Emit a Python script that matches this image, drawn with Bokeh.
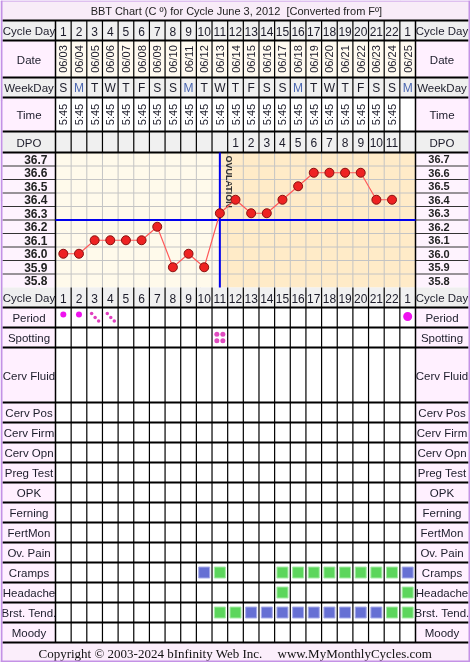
import math
from bokeh.plotting import figure
from bokeh.models import Range1d, ColumnDataSource
from bokeh.core.properties import value
from bokeh.embed import file_html
from bokeh.resources import INLINE

# ---------------- data ----------------
cycle_day_labels = ["1", "2", "3", "4", "5", "6", "7", "8", "9", "10", "11", "12",
                    "13", "14", "15", "16", "17", "18", "19", "20", "21", "22", "1"]
dates = ["06/03", "06/04", "06/05", "06/06", "06/07", "06/08", "06/09", "06/10",
         "06/11", "06/12", "06/13", "06/14", "06/15", "06/16", "06/17", "06/18",
         "06/19", "06/20", "06/21", "06/22", "06/23", "06/24", "06/25"]
weekdays = ["S", "M", "T", "W", "T", "F", "S", "S", "M", "T", "W", "T",
            "F", "S", "S", "M", "T", "W", "T", "F", "S", "S", "M"]
times = ["5:45", "5:45", "5:45", "5:45", "5:45", "5:45", "5:45", "5:45", "5:45",
         "5:45", "5:45", "5:45", "5:45", "5:45", "5:45", "5:45", "5:45", "5:45",
         "5:45", "5:45", "5:45", "5:45", ""]
dpo = ["", "", "", "", "", "", "", "", "", "", "", "1", "2", "3", "4", "5", "6",
       "7", "8", "9", "10", "11", ""]

temp_days = [1, 2, 3, 4, 5, 6, 7, 8, 9, 10, 11, 12, 13, 14, 15, 16, 17, 18, 19, 20, 21, 22]
temps = [36.0, 36.0, 36.1, 36.1, 36.1, 36.1, 36.2, 35.9, 36.0, 35.9, 36.3,
         36.4, 36.3, 36.3, 36.4, 36.5, 36.6, 36.6, 36.6, 36.6, 36.4, 36.4]
temp_ticks = [36.7, 36.6, 36.5, 36.4, 36.3, 36.2, 36.1, 36.0, 35.9, 35.8]
temp_tick_labels = ["36.7", "36.6", "36.5", "36.4", "36.3", "36.2", "36.1", "36.0", "35.9", "35.8"]
coverline_temp = 36.25
ovulation_day = 11

period_days = [1, 2, 23]
period_flow = ["medium", "medium", "heavy"]
light_period_days = [3, 4]
spotting_days = [11]

cramps_days = [10, 11, 15, 16, 17, 18, 19, 20, 21, 22, 23]
cramps_level = ["B", "G", "G", "G", "G", "G", "G", "G", "G", "G", "B"]
headache_days = [15, 23]
headache_level = ["G", "G"]
brst_days = [11, 12, 13, 14, 15, 16, 17, 18, 19, 20, 21, 22, 23]
brst_level = ["G", "G", "B", "B", "B", "B", "B", "B", "B", "B", "B", "G", "G"]

header_labels = ["Cycle Day", "Date", "WeekDay", "Time", "DPO"]
lower_labels = ["Cycle Day", "Period", "Spotting", "Cerv Fluid", "Cerv Pos", "Cerv Firm",
                "Cerv Opn", "Preg Test", "OPK", "Ferning", "FertMon", "Ov. Pain",
                "Cramps", "Headache", "Brst. Tend.", "Moody"]

title = "BBT Chart (C \u00ba) for Cycle June 3, 2012 \u00a0[Converted from F\u00ba]"
copyright_left = "Copyright \u00a9 2003-2024 bInfinity Web Inc."
copyright_right = "www.MyMonthlyCycles.com"

# ---------------- layout ----------------
WIDTH, HEIGHT = 470, 662
LEFT_X = 55.0
RIGHT_X = 415.0
NCOL = 23
CW = (RIGHT_X - LEFT_X) / NCOL
BORDER = 2
LBL_L = (BORDER + LEFT_X) / 2
LBL_R = (RIGHT_X + WIDTH - BORDER) / 2

header_rows = [(20, 40), (40, 77), (77, 97), (97, 131), (131, 152)]
CHART_TOP, CHART_BOT = 152, 287
PX_PER_DEG = (CHART_BOT - CHART_TOP) / 1.0
T_TOP_EDGE = 36.75
lower_tops = [287, 307, 327, 347, 402]
while lower_tops[-1] < 622:
    lower_tops.append(lower_tops[-1] + 20)
lower_rows = list(zip(lower_tops, lower_tops[1:] + [642]))

FONT = value("Liberation Sans")
SERIF = value("Liberation Serif")
TXT = "#1c1c2a"
PINK = "#fff0ff"
GREY = "#efefef"
PURPLE = "#c492e6"

p = figure(width=WIDTH, height=HEIGHT, x_range=Range1d(0, WIDTH), y_range=Range1d(HEIGHT, 0),
           output_backend="svg", toolbar_location=None, x_axis_location=None,
           y_axis_location=None, min_border=0, outline_line_color=None,
           background_fill_color="white", border_fill_color="white")
p.extra_x_ranges = {"day": Range1d(0.5 - LEFT_X / CW, 0.5 + (WIDTH - LEFT_X) / CW)}
p.extra_y_ranges = {"temp": Range1d(T_TOP_EDGE - (HEIGHT - CHART_TOP) / PX_PER_DEG,
                                    T_TOP_EDGE + CHART_TOP / PX_PER_DEG)}
p.styles = {"position": "fixed", "left": "0px", "top": "0px"}

def quads(l, r, t, b, color):
    p.quad(left=l, right=r, top=t, bottom=b, fill_color=color, line_color=None)

# backgrounds
quads([0], [WIDTH], [0], [20], "#f8ecf8")
hdr_lbl_col = [GREY, PINK, GREY, PINK, GREY]
hdr_cell_col = ["#f0f0f0", "#fffaf0", "#f0f0f0", "white", "#f0f0f0"]
for (t, b), lc, cc in zip(header_rows, hdr_lbl_col, hdr_cell_col):
    quads([BORDER, RIGHT_X], [LEFT_X, WIDTH - BORDER], [t, t], [b, b], lc)
    quads([LEFT_X], [RIGHT_X], [t], [b], cc)
quads([BORDER, RIGHT_X], [LEFT_X, WIDTH - BORDER], [CHART_TOP] * 2, [CHART_BOT] * 2, "#fef3fe")
# chart background through day / temp scales
p.quad(left=[0.5, ovulation_day], right=[ovulation_day, NCOL + 0.5],
       top=[T_TOP_EDGE, T_TOP_EDGE], bottom=[temp_ticks[-1] - 0.05] * 2,
       fill_color=["#fffaeb", "#ffebc8"], line_color=None,
       x_range_name="day", y_range_name="temp")
for i, (t, b) in enumerate(lower_rows):
    quads([BORDER, RIGHT_X], [LEFT_X, WIDTH - BORDER], [t, t], [b, b], GREY if i == 0 else PINK)
    quads([LEFT_X], [RIGHT_X], [t], [b], "#f0f0f0" if i == 0 else "white")
quads([0], [WIDTH], [642], [HEIGHT], "#fbeefb")

# chart grid
bnds = [d + 0.5 for d in range(1, NCOL)]
p.segment(x0=bnds, x1=bnds, y0=[T_TOP_EDGE] * len(bnds), y1=[temp_ticks[-1] - 0.05] * len(bnds),
          line_color="#c4c4c4", line_width=1, x_range_name="day", y_range_name="temp")
hb = [t - 0.05 for t in temp_ticks[:-1]]
p.segment(x0=[0.5] * len(hb), x1=[NCOL + 0.5] * len(hb), y0=hb, y1=hb,
          line_color="#c4c4c4", line_width=1, x_range_name="day", y_range_name="temp")
for x0, x1 in [(BORDER, LEFT_X), (RIGHT_X, WIDTH - BORDER)]:
    ys = [CHART_TOP + (i + 1) * PX_PER_DEG / 10 for i in range(9)]
    p.segment(x0=[x0] * 9, x1=[x1] * 9, y0=ys, y1=ys, line_color="#333333", line_width=1)

# table lines
col_x = [LEFT_X + k * CW for k in range(1, NCOL)]
for (top, bot) in [(20, CHART_TOP), (CHART_BOT, 642)]:
    p.segment(x0=col_x, x1=col_x, y0=[top] * len(col_x), y1=[bot] * len(col_x),
              line_color="black", line_width=1.2)
p.segment(x0=[LEFT_X, RIGHT_X], x1=[LEFT_X, RIGHT_X], y0=[20, 20], y1=[642, 642],
          line_color="black", line_width=1.5)
hy = [20] + [b for _, b in header_rows] + [b for _, b in lower_rows]
p.segment(x0=[BORDER] * len(hy), x1=[WIDTH - BORDER] * len(hy), y0=hy, y1=hy,
          line_color="black", line_width=2)

# cover line and ovulation line
p.segment(x0=[0.5], x1=[NCOL + 0.5], y0=[coverline_temp], y1=[coverline_temp],
          line_color="#0000ee", line_width=2, x_range_name="day", y_range_name="temp")
p.segment(x0=[ovulation_day], x1=[ovulation_day], y0=[T_TOP_EDGE], y1=[temp_ticks[-1] - 0.05],
          line_color="#0000ee", line_width=2, x_range_name="day", y_range_name="temp")
p.text(x=[ovulation_day], y=[T_TOP_EDGE], text=["OVULATION"], angle=-math.pi / 2,
       x_offset=9, y_offset=3, text_align="left", text_baseline="middle",
       text_font=FONT, text_font_size="9px", text_font_style="bold", text_color="#333333",
       x_range_name="day", y_range_name="temp")

# temperatures
p.line(x=temp_days, y=temps, line_color="#ff5a5a", line_width=1.2,
       x_range_name="day", y_range_name="temp")
p.scatter(x=temp_days, y=temps, size=9, fill_color="#ee2222", line_color="#881111",
          line_width=1, x_range_name="day", y_range_name="temp")

# temperature labels
p.text(x=[LEFT_X - 8] * len(temp_ticks), y=temp_ticks, text=temp_tick_labels,
       text_align="right", text_baseline="middle", text_font=FONT, text_font_size="12px",
       text_font_style="bold", text_color="#222222", y_range_name="temp")
p.text(x=[LBL_R - 3] * len(temp_ticks), y=temp_ticks, text=temp_tick_labels,
       text_align="center", text_baseline="middle", text_font=FONT, text_font_size="11px",
       text_font_style="bold", text_color="#222222", y_range_name="temp")

# header texts
days = list(range(1, NCOL + 1))
hc = [(t + b) / 2 for t, b in header_rows]
def row_text(vals, yc, size="12px", angle=0.0, colors=None):
    src = ColumnDataSource(dict(x=days, y=[yc] * NCOL, t=vals,
                                c=colors if colors else [TXT] * NCOL))
    p.text(x="x", y="y", text="t", source=src, angle=angle, text_align="center",
           text_baseline="middle", text_font=FONT, text_font_size=size,
           text_color="c", x_range_name="day")

row_text(cycle_day_labels, hc[0] + 0.5)
row_text(dates, hc[1], "11px", math.pi / 2)
row_text(weekdays, hc[2] + 0.5, "12px", colors=["#4a66b0" if w == "M" else TXT for w in weekdays])
row_text(times, hc[3], "11px", math.pi / 2)
row_text(dpo, hc[4] + 0.5)
row_text(cycle_day_labels, (lower_rows[0][0] + lower_rows[0][1]) / 2 + 0.5)

for xl in [LBL_L, LBL_R]:
    p.text(x=[xl] * len(header_labels), y=[c + 0.5 for c in hc], text=header_labels,
           text_align="center", text_baseline="middle", text_font=FONT,
           text_font_size="11.5px", text_color=TXT)
    p.text(x=[xl] * len(lower_labels), y=[(t + b) / 2 + 0.5 for t, b in lower_rows],
           text=lower_labels, text_align="center", text_baseline="middle",
           text_font=FONT, text_font_size="11.5px", text_color=TXT)

# period / spotting markers
pr_c = (lower_rows[1][0] + lower_rows[1][1]) / 2
flow_style = {"medium": (6, -3), "heavy": (9, -1)}
p.scatter(x=period_days, y=[pr_c + flow_style[f][1] for f in period_flow],
          size=[flow_style[f][0] for f in period_flow], fill_color="#ee11ee",
          line_color=None, x_range_name="day")
light_pattern = [(-3, -4), (0.5, 0), (4, 3.5)]
lx, ly = [], []
for d in light_period_days:
    for ox, oy in light_pattern:
        lx.append(d + ox / CW)
        ly.append(pr_c + oy)
p.scatter(x=lx, y=ly, size=3.5, fill_color="#e040c0", line_color=None, x_range_name="day")
sp_c = (lower_rows[2][0] + lower_rows[2][1]) / 2
spot_pattern = [(-3, -3.3), (3, -3.3), (-3, 3.3), (3, 3.3)]
sx, sy = [], []
for d in spotting_days:
    for ox, oy in spot_pattern:
        sx.append(d + ox / CW)
        sy.append(sp_c + oy)
p.scatter(x=sx, y=sy, size=5, fill_color="#e04cc0", line_color=None, x_range_name="day")

# symptom squares
fills = {"G": "#5cd65c", "B": "#6670d4"}
edges = {"G": "#a6eca6", "B": "#a9ade9"}
for name, dd, lv in [("Cramps", cramps_days, cramps_level),
                     ("Headache", headache_days, headache_level),
                     ("Brst. Tend.", brst_days, brst_level)]:
    t, b = lower_rows[lower_labels.index(name)]
    p.scatter(x=dd, y=[(t + b) / 2] * len(dd), marker="square", size=11,
              fill_color=[fills[v] for v in lv], line_color=[edges[v] for v in lv],
              line_width=1, x_range_name="day")

# title and copyright
p.text(x=[(WIDTH) / 2 + 1], y=[10.5], text=[title], text_align="center",
       text_baseline="middle", text_font=FONT, text_font_size="11px", text_color="#222222")
p.text(x=[38, 277], y=[652.5, 652.5], text=[copyright_left, copyright_right],
       text_align="left", text_baseline="middle", text_font=SERIF,
       text_font_size="13px", text_color="#111111")

# outer purple border
quads([0, WIDTH - BORDER, 0, 0], [BORDER, WIDTH, WIDTH, WIDTH],
      [0, 0, 0, HEIGHT - BORDER], [HEIGHT, HEIGHT, 1, HEIGHT], PURPLE)

open("out.html", "w").write(file_html(p, INLINE))
